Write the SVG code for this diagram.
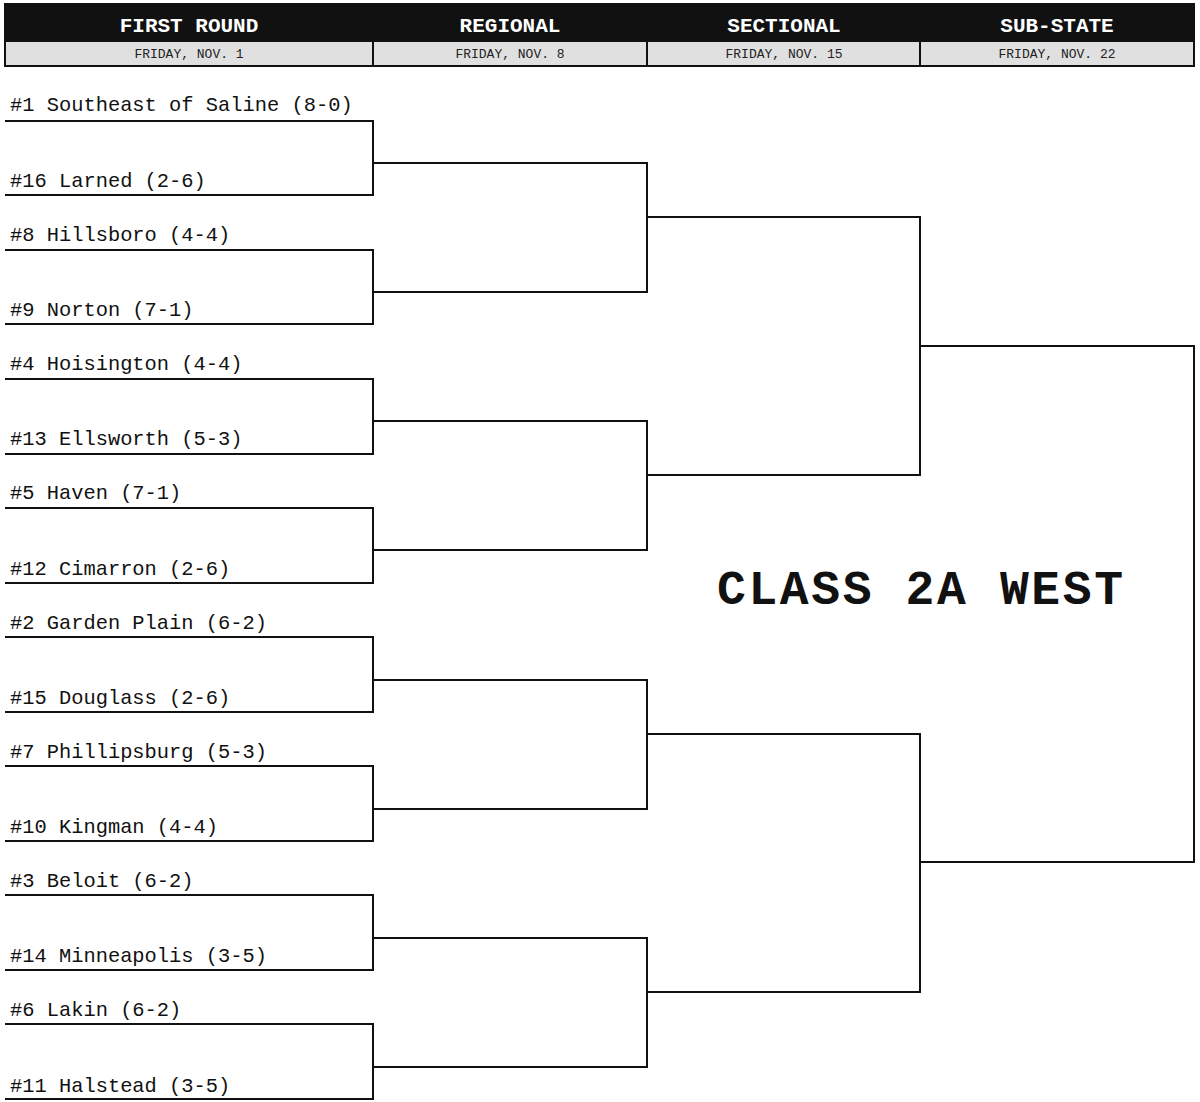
<svg xmlns="http://www.w3.org/2000/svg" width="1200" height="1102" viewBox="0 0 1200 1102">
<style>
.t{font-family:"Liberation Mono",monospace;font-size:20.4px;fill:#111}
.h{font-family:"Liberation Mono",monospace;font-size:21px;font-weight:bold;fill:#fff;text-anchor:middle}
.d{font-family:"Liberation Mono",monospace;font-size:13px;fill:#222;text-anchor:middle}
.l{stroke:#111;stroke-width:2;fill:none}
</style>
<rect width="1200" height="1102" fill="#fff"/>
<g id="header">
<rect x="4" y="3" width="1191" height="37" fill="#111"/>
<rect x="4" y="40" width="1191" height="27" fill="#111"/>
<rect x="6" y="42" width="366" height="23" fill="#e0e0e0"/>
<rect x="374" y="42" width="272" height="23" fill="#e0e0e0"/>
<rect x="648" y="42" width="271" height="23" fill="#e0e0e0"/>
<rect x="921" y="42" width="272" height="23" fill="#e0e0e0"/>
<text class="h" x="189" y="32">FIRST ROUND</text>
<text class="h" x="510" y="32">REGIONAL</text>
<text class="h" x="784" y="32">SECTIONAL</text>
<text class="h" x="1057" y="32">SUB-STATE</text>
<text class="d" x="189" y="58">FRIDAY, NOV. 1</text>
<text class="d" x="510" y="58">FRIDAY, NOV. 8</text>
<text class="d" x="784" y="58">FRIDAY, NOV. 15</text>
<text class="d" x="1057" y="58">FRIDAY, NOV. 22</text>
</g>
<g id="teams">
<text class="t" x="10" y="111">#1 Southeast of Saline (8-0)</text>
<text class="t" x="10" y="187">#16 Larned (2-6)</text>
<text class="t" x="10" y="241">#8 Hillsboro (4-4)</text>
<text class="t" x="10" y="316">#9 Norton (7-1)</text>
<text class="t" x="10" y="370">#4 Hoisington (4-4)</text>
<text class="t" x="10" y="445">#13 Ellsworth (5-3)</text>
<text class="t" x="10" y="499">#5 Haven (7-1)</text>
<text class="t" x="10" y="575">#12 Cimarron (2-6)</text>
<text class="t" x="10" y="629">#2 Garden Plain (6-2)</text>
<text class="t" x="10" y="704">#15 Douglass (2-6)</text>
<text class="t" x="10" y="758">#7 Phillipsburg (5-3)</text>
<text class="t" x="10" y="833">#10 Kingman (4-4)</text>
<text class="t" x="10" y="887">#3 Beloit (6-2)</text>
<text class="t" x="10" y="962">#14 Minneapolis (3-5)</text>
<text class="t" x="10" y="1016">#6 Lakin (6-2)</text>
<text class="t" x="10" y="1092">#11 Halstead (3-5)</text>
</g>
<g id="title"><text x="920" y="604" textLength="406" style="font-family:'Liberation Mono',monospace;font-size:48px;font-weight:bold;text-anchor:middle;fill:#111">CLASS 2A WEST</text></g>
<g id="connectors" class="l">
<path d="M5 121H373V195H5M5 250H373V324H5M5 379H373V454H5M5 508H373V583H5M5 637H373V712H5M5 766H373V841H5M5 895H373V970H5M5 1024H373V1099H5"/>
<path d="M373 163H647V292H373M373 421H647V550H373M373 680H647V809H373M373 938H647V1067H373"/>
<path d="M647 217H920V475H647M647 734H920V992H647"/>
<path d="M920 346H1194V862H920"/>
</g>
</svg>
